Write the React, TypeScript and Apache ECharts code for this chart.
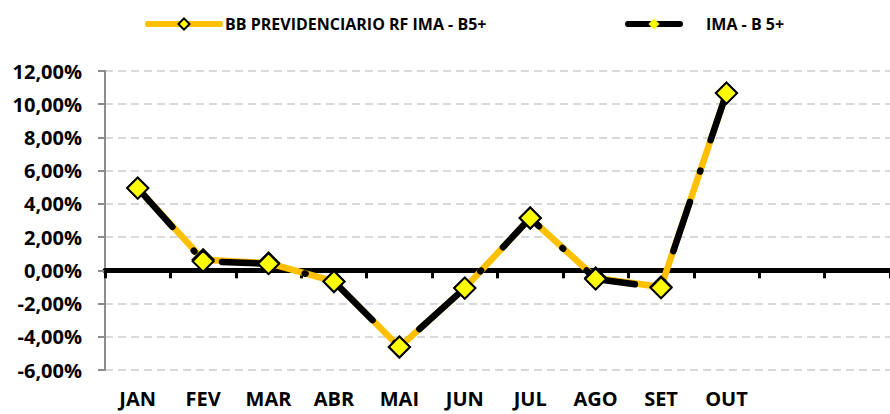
import React, { useEffect, useRef } from "react";
import * as echarts from "echarts";

const categories = ["JAN", "FEV", "MAR", "ABR", "MAI", "JUN", "JUL", "AGO", "SET", "OUT", "", ""];
const bbValues = [4.95, 0.64, 0.44, -0.67, -4.62, -1.07, 3.15, -0.46, -1.0, 10.67];
const imaValues = [4.95, 0.55, 0.4, -0.67, -4.62, -1.07, 3.15, -0.52, -1.05, 10.67];
const seriesNames = ["BB PREVIDENCIARIO RF IMA - B5+", "IMA - B 5+"];

const FONT = "'Open Sans', 'DejaVu Sans', sans-serif";

export default function App() {
  const ref = useRef<HTMLDivElement>(null);
  useEffect(() => {
    document.body.style.margin = "0";
    const chart = echarts.init(ref.current!, null, { renderer: "svg" });
    const marker = {
      color: "#FFFF00",
      borderColor: "#000000",
      borderWidth: 2,
    };
    chart.setOption({
      animation: false,
      backgroundColor: "#ffffff",
      legend: [
        {
          left: 140,
          top: 11,
          itemWidth: 72,
          itemHeight: 14,
          textStyle: { fontFamily: FONT, fontWeight: "bold", fontSize: 16, color: "#000" },
          data: [
            {
              name: seriesNames[0],
              itemStyle: { color: "#FFFF00", borderColor: "#000", borderWidth: 2 },
              lineStyle: { type: "solid", color: "#FFC000", width: 6, cap: "round" },
            },
          ],
        },
        {
          left: 620,
          top: 11,
          itemWidth: 52,
          itemHeight: 14,
          textStyle: {
            fontFamily: FONT,
            fontWeight: "bold",
            fontSize: 16,
            color: "#000",
            padding: [0, 0, 0, 21],
          },
          data: [
            {
              name: seriesNames[1],
              itemStyle: { color: "#FFFF00", borderWidth: 0 },
              lineStyle: { type: "solid", color: "#000", width: 6, cap: "round" },
            },
          ],
        },
      ],
      grid: { left: 105, right: -2, top: 71, bottom: 44, containLabel: false },
      xAxis: [
        {
          type: "category",
          data: categories,
          position: "bottom",
          boundaryGap: true,
          axisLine: { show: false, onZero: false },
          axisTick: { show: false },
          axisLabel: {
            margin: 18,
            fontFamily: FONT,
            fontWeight: "bold",
            fontSize: 20,
            color: "#000",
            interval: 0,
          },
          splitLine: { show: false },
        },
        {
          type: "category",
          data: categories,
          position: "top",
          boundaryGap: true,
          axisLine: { show: true, onZero: true, lineStyle: { color: "#000", width: 5 } },
          axisTick: { show: true, inside: true, length: 8, interval: 0, lineStyle: { color: "#000", width: 3 } },
          axisLabel: { show: false },
          splitLine: { show: false },
        },
      ],
      yAxis: {
        type: "value",
        min: -6,
        max: 12,
        interval: 2,
        axisLine: { show: true, lineStyle: { color: "#8c8c8c", width: 2 } },
        axisTick: { show: true, length: 7, lineStyle: { color: "#8c8c8c", width: 2 } },
        axisLabel: {
          margin: 23,
          fontFamily: FONT,
          fontWeight: "bold",
          fontSize: 20,
          color: "#000",
          formatter: (v: number) => v.toFixed(2).replace(".", ",") + "%",
        },
        splitLine: {
          show: true,
          lineStyle: { color: "#d9d9d9", width: 2, type: [8, 5] },
        },
      },
      series: [
        {
          name: seriesNames[0],
          type: "line",
          xAxisIndex: 0,
          data: bbValues,
          symbol: "diamond",
          symbolSize: 21,
          showAllSymbol: true,
          lineStyle: { color: "#FFC000", width: 6.5, cap: "round", join: "round" },
          itemStyle: marker,
          z: 2,
        },
        {
          name: seriesNames[1],
          type: "line",
          xAxisIndex: 0,
          data: imaValues,
          symbol: "diamond",
          symbolSize: 21,
          showAllSymbol: true,
          lineStyle: {
            color: "#000000",
            width: 6.5,
            type: [52, 32, 1, 32],
            cap: "round",
            join: "round",
          },
          itemStyle: marker,
          z: 3,
        },
      ],
    });
    return () => chart.dispose();
  }, []);
  return <div ref={ref} style={{ width: 890, height: 414 }} />;
}
